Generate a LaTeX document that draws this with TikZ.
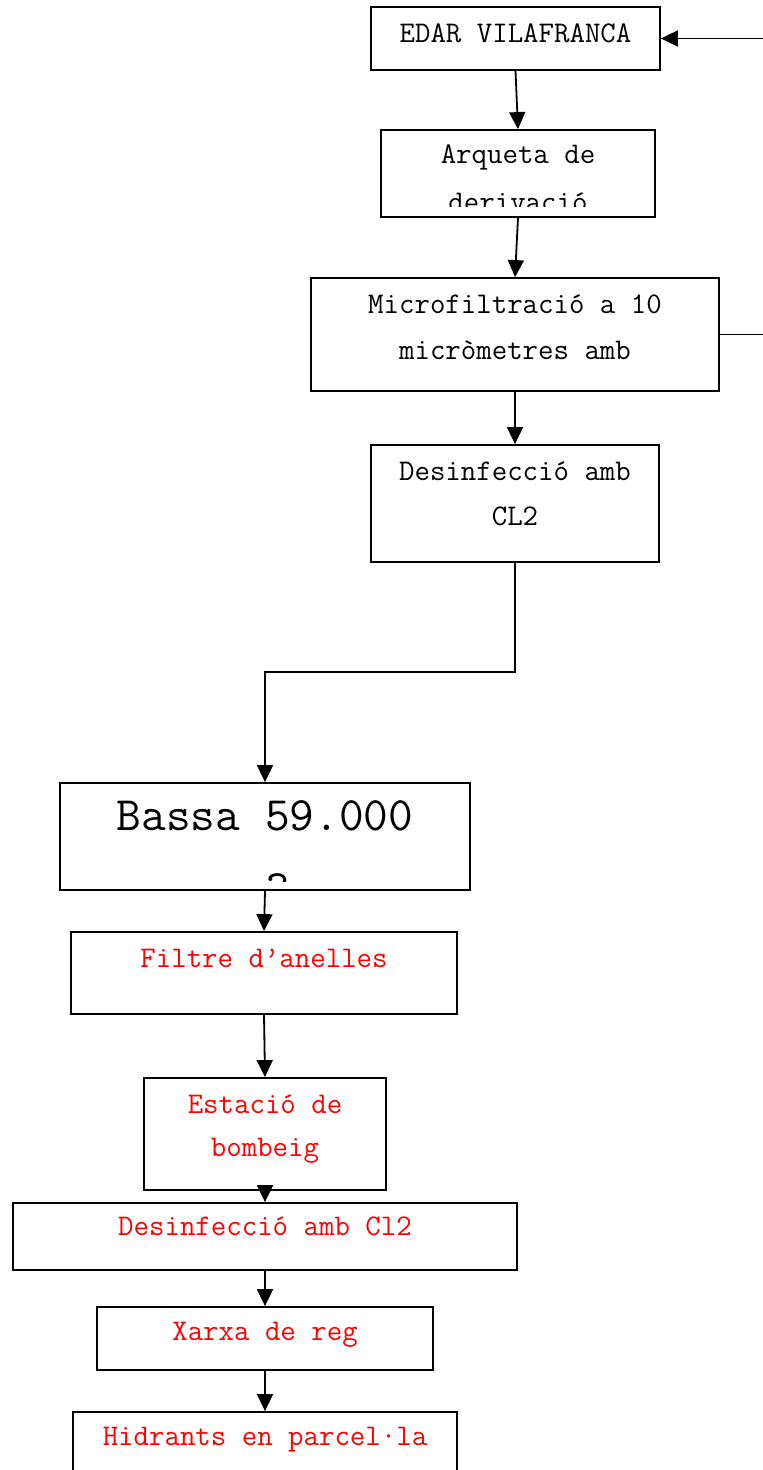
\documentclass[tikz,border=0pt]{standalone}
\usepackage{fontspec}
\usetikzlibrary{arrows.meta}

\tikzset{
  box/.style={draw=black, line width=1.8pt, fill=white, inner sep=0pt, rectangle},
  lbl/.style={anchor=base, inner sep=0pt, font=\ttfamily\fontsize{30}{46}\selectfont},
  big/.style={anchor=base, inner sep=0pt, font=\ttfamily\fontsize{48}{73}\selectfont},
  redlbl/.style={lbl, text={rgb,255:red,255;green,0;blue,0}},
  arr/.style={line width=1.8pt, -{Triangle[length=17pt,width=16pt]}}
}

\begin{document}
\begin{tikzpicture}[x=1pt,y=-1pt]
\clip (0,0) rectangle (763,1470);
\useasboundingbox (0,0) rectangle (763,1470);

% process boxes
\node[box, minimum width=289pt, minimum height=63pt]  (edar)  at (515.5,38.5)  {};
\node[box, minimum width=274pt, minimum height=87pt]  (arq)   at (518,173.5)   {};
\node[box, minimum width=408pt, minimum height=113pt] (micro) at (515,334.5)   {};
\node[box, minimum width=288pt, minimum height=117pt] (dis)   at (515,503.5)   {};
\node[box, minimum width=410pt, minimum height=107pt] (bassa) at (265,836.5)   {};
\node[box, minimum width=386pt, minimum height=82pt]  (filt)  at (264,973)     {};
\node[box, minimum width=242pt, minimum height=112pt] (est)   at (265,1134)    {};
\node[box, minimum width=504pt, minimum height=67pt]  (dred)  at (265,1236.5)  {};
\node[box, minimum width=336pt, minimum height=63pt]  (xarxa) at (265,1338.5)  {};
\node[box, minimum width=384pt, minimum height=120pt] (hidr)  at (265,1472)    {};

% box texts
\node[lbl] (tedar) at (515.5,42) {EDAR VILAFRANCA};
\begin{scope}
  \clip (381,130) rectangle (655,206);
  \node[lbl] (tarq1) at (518,163) {Arqueta de};
  \node[lbl] (tarq2) at (518,211) {derivació};
\end{scope}
\node[lbl] (tmic1) at (515,313) {Microfiltració a 10};
\node[lbl] (tmic2) at (515,359) {micròmetres amb};
\node[lbl] (tdis1) at (515,480) {Desinfecció amb};
\node[lbl] (tdis2) at (515,525) {CL2};
\begin{scope}
  \clip (60,783) rectangle (470,881);
  \node[big] (tbas1) at (265,830) {Bassa 59.000};
  \node[big] (tbas2) at (265,903) {m3};
\end{scope}
\node[redlbl] (tfilt) at (264,967)  {Filtre d’anelles};
\node[redlbl] (test1) at (265,1113) {Estació de};
\node[redlbl] (test2) at (265,1156) {bombeig};
\node[redlbl] (tdred) at (265,1235) {Desinfecció amb Cl2};
\node[redlbl] (txar)  at (265,1340) {Xarxa de reg};
\node[redlbl] (thid)  at (265,1445) {Hidrants en parcel·la};

% connectors
\coordinate (bend) at (515,672);
\coordinate (ret)  at (780,334.5);
\draw[arr] (edar.south) -- (arq.north);
\draw[arr] (arq.south) -- (micro.north);
\draw[arr] (micro.south) -- (dis.north);
\draw[arr] (dis.south) -- (bend) -| (bassa.north);
\draw[arr] (bassa.south) -- (filt.north);
\draw[arr] (filt.south) -- (est.north);
\draw[arr] (est.south) -- (dred.north);
\draw[arr] (dred.south) -- (xarxa.north);
\draw[arr] (xarxa.south) -- (hidr.north);
\draw[arr] (micro.east) -- (ret) |- (edar.east);
\end{tikzpicture}
\end{document}
